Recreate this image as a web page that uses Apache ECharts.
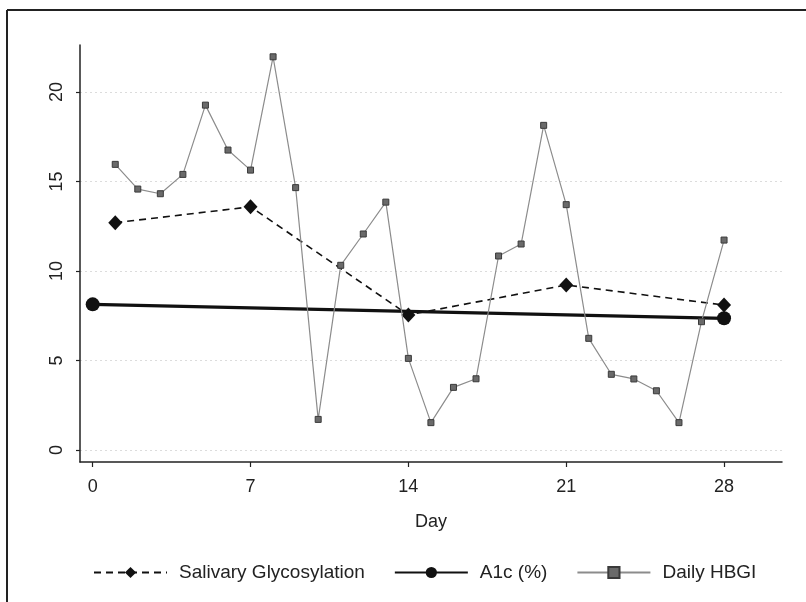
<!DOCTYPE html>
<html>
<head>
<meta charset="utf-8">
<script src="https://cdn.jsdelivr.net/npm/echarts@6/dist/echarts.min.js"></script>
<style>
html,body{margin:0;padding:0;background:#fff;}
#chart{width:806px;height:602px;}
</style>
</head>
<body>
<div id="chart"></div>
<script>
const xTicks = [0, 7, 14, 21, 28];
const yTicks = [0, 5, 10, 15, 20];

const salivaryDays = [1, 7, 14, 21, 28];
const salivaryValues = [12.7, 13.59, 7.55, 9.22, 8.10];

const a1cDays = [0, 28];
const a1cValues = [8.14, 7.36];

const hbgiDays = [1, 2, 3, 4, 5, 6, 7, 8, 9, 10, 11, 12, 13, 14, 15, 16, 17, 18, 19, 20, 21, 22, 23, 24, 25, 26, 27, 28];
const hbgiValues = [15.96, 14.58, 14.32, 15.40, 19.27, 16.76, 15.64, 21.97, 14.66, 1.71, 10.32, 12.07, 13.85, 5.12, 1.53, 3.50, 3.98, 10.84, 11.51, 18.14, 13.71, 6.24, 4.23, 3.97, 3.31, 1.53, 7.17, 11.73];

const seriesNames = ['Salivary Glycosylation', 'A1c (%)', 'Daily HBGI'];

function pairs(xs, ys) { return xs.map((x, i) => [x, ys[i]]); }

const FONT = '"Liberation Sans", Arial, sans-serif';
const chart = echarts.init(document.getElementById('chart'), null, {renderer: 'canvas'});

chart.setOption({
  backgroundColor: '#ffffff',
  animation: false,
  textStyle: {fontFamily: FONT},
  graphic: [
    {type: 'line', shape: {x1: 7, y1: 10, x2: 806, y2: 10}, style: {stroke: '#222', lineWidth: 2}},
    {type: 'line', shape: {x1: 7, y1: 10, x2: 7, y2: 602}, style: {stroke: '#222', lineWidth: 2}}
  ],
  grid: {left: 80, right: 24, top: 45, bottom: 140, containLabel: false},
  xAxis: {
    type: 'value',
    min: -0.563,
    max: 30.57,
    name: 'Day',
    nameLocation: 'middle',
    nameGap: 51,
    nameTextStyle: {fontSize: 18, color: '#222', fontFamily: FONT},
    axisLine: {show: true, onZero: false, lineStyle: {color: '#222', width: 1.5}},
    axisTick: {show: true, length: 5, customValues: xTicks, lineStyle: {color: '#222', width: 1.2}},
    axisLabel: {customValues: xTicks, fontSize: 18, color: '#222', margin: 16, fontFamily: FONT},
    splitLine: {show: false}
  },
  yAxis: {
    type: 'value',
    min: -0.67,
    max: 22.63,
    axisLine: {show: true, onZero: false, lineStyle: {color: '#222', width: 1.5}},
    axisTick: {show: true, length: 4, customValues: yTicks, lineStyle: {color: '#222', width: 1.2}},
    axisLabel: {customValues: yTicks, rotate: 90, fontSize: 18, color: '#222', margin: 14, fontFamily: FONT},
    splitLine: {show: true, lineStyle: {color: '#dcdcdc', width: 1, type: [2, 3]}}
  },
  legend: {
    left: 88,
    top: 558,
    orient: 'horizontal',
    itemWidth: 73,
    itemHeight: 14,
    itemGap: 29,
    textStyle: {fontSize: 19, color: '#222', fontFamily: FONT, padding: [0, 0, 0, 7]},
    data: seriesNames
  },
  series: [
    {
      name: seriesNames[0],
      type: 'line',
      data: pairs(salivaryDays, salivaryValues),
      symbol: 'diamond',
      symbolSize: [14, 15],
      lineStyle: {color: '#111', width: 1.6, type: [7, 5]},
      itemStyle: {color: '#111'},
      z: 2
    },
    {
      name: seriesNames[1],
      type: 'line',
      data: pairs(a1cDays, a1cValues),
      symbol: 'circle',
      symbolSize: 14,
      lineStyle: {color: '#111', width: 3.2},
      itemStyle: {color: '#111'},
      z: 3
    },
    {
      name: seriesNames[2],
      type: 'line',
      data: pairs(hbgiDays, hbgiValues),
      symbol: 'rect',
      symbolSize: 6,
      lineStyle: {color: '#8c8c8c', width: 1.2},
      itemStyle: {color: '#6a6a6a', borderColor: '#3a3a3a', borderWidth: 1},
      z: 4
    }
  ]
});
</script>
</body>
</html>
